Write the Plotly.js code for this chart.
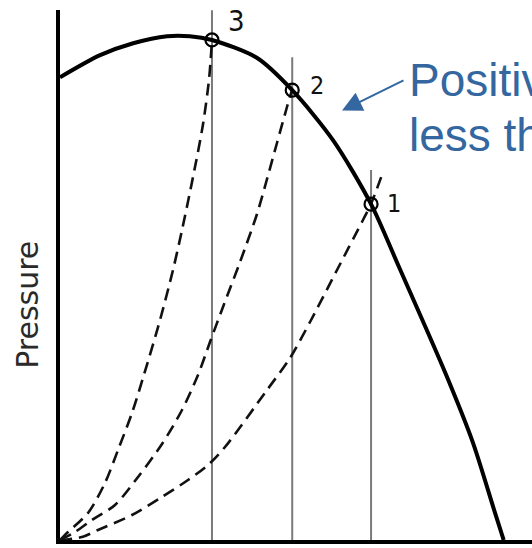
<!DOCTYPE html>
<html>
<head>
<meta charset="utf-8">
<script src="https://cdn.plot.ly/plotly-3.0.1.min.js"></script>
<style>html,body{margin:0;padding:0;background:#fff;}#chart{width:532px;height:548px;}</style>
</head>
<body>
<div id="chart"></div>
<script>
// Pump characteristic curve (flow vs pressure, arbitrary units 0-100)
var pumpFlow     = [0, 8.5, 15.5, 22.7, 27.5, 32.2, 41.7, 49.2, 57.8, 65.9, 71.8, 81.8, 87.5, 92.0, 94.0];
var pumpPressure = [85.7, 89.8, 92.0, 93.3, 93.3, 92.6, 89.3, 83.3, 74.1, 62.2, 50.6, 30.6, 18.0, 5.5, 0];

// System curves (dashed), through operating points 3, 2, 1
var sys3Flow     = [0, 1.69, 5.93, 9.53, 12.29, 15.25, 17.58, 21.19, 23.94, 25.85, 28.18, 30.30, 31.6, 32.20];
var sys3Pressure = [0, 1.48, 5.0, 10.56, 16.67, 23.52, 30.0, 40.74, 50.0, 57.41, 67.22, 77.0, 85.5, 92.59];
var sys2Flow     = [0, 3.18, 6.78, 11.65, 16.53, 21.61, 25.85, 29.24, 31.78, 34.53, 38.14, 41.74, 43.86, 45.97, 48.09, 49.15];
var sys2Pressure = [0, 1.48, 3.70, 6.48, 11.67, 17.78, 24.07, 30.56, 36.67, 43.15, 51.48, 60.37, 66.85, 73.52, 80.19, 83.33];
var sys1Flow     = [0, 4.66, 8.05, 15.25, 21.61, 27.12, 31.36, 34.96, 43.86, 48.73, 52.97, 58.69, 64.19, 65.89, 68.43];
var sys1Pressure = [0, 0.56, 1.85, 4.63, 7.96, 11.11, 13.89, 17.22, 27.78, 33.7, 40.37, 50.0, 59.26, 62.22, 68.15];

// Operating points and their labels
var opLabels   = ["3", "2", "1"];
var opFlow     = [32.2, 49.2, 65.9];
var opPressure = [92.6, 83.3, 62.2];
var guideTop   = [98.1, 89.4, 68.5];

var axisLabel = "Pressure";
var noteLine1 = "Positive";
var noteLine2 = "less than";

var blue = "rgb(52,103,160)";
var traces = [];

// vertical guide lines at operating flows
for (var i = 0; i < opFlow.length; i++) {
  traces.push({x: [opFlow[i], opFlow[i]], y: [0, guideTop[i]], mode: "lines",
    line: {color: "#7a7a7a", width: 2}, hoverinfo: "skip", showlegend: false});
}
[[sys3Flow, sys3Pressure], [sys2Flow, sys2Pressure], [sys1Flow, sys1Pressure]].forEach(function (s) {
  traces.push({x: s[0], y: s[1], mode: "lines",
    line: {color: "#111", width: 2.6, dash: "12px,7px", shape: "spline", smoothing: 0.8},
    hoverinfo: "skip", showlegend: false});
});
traces.push({x: pumpFlow, y: pumpPressure, mode: "lines",
  line: {color: "#000", width: 4, shape: "spline", smoothing: 0.8}, showlegend: false});
traces.push({x: opFlow, y: opPressure, mode: "markers",
  marker: {symbol: "circle-open", size: 13, color: "#000", line: {width: 2.2, color: "#000"}},
  showlegend: false});

var labelShift = [[25, 19, 29], [25, 5, 25], [23, 1, 25]];
var annotations = [];
for (var j = 0; j < opLabels.length; j++) {
  annotations.push({x: opFlow[j], y: opPressure[j], xref: "x", yref: "y", text: opLabels[j],
    showarrow: false, xshift: labelShift[j][0], yshift: labelShift[j][1],
    font: {family: "DejaVu Sans Condensed, DejaVu Sans", size: labelShift[j][2], color: "#111"}});
}
annotations.push({xref: "paper", yref: "paper", x: -0.068, y: 0.4436, xanchor: "center", yanchor: "middle",
  text: axisLabel, textangle: -90, showarrow: false,
  font: {family: "DejaVu Sans", size: 30, color: "#2a2a2a"}});
annotations.push({xref: "paper", yref: "paper", x: 0.735, y: 0.8684, xanchor: "left", yanchor: "middle",
  text: noteLine1, showarrow: false, font: {family: "Liberation Sans, Arial", size: 46, color: blue}});
annotations.push({xref: "paper", yref: "paper", x: 0.735, y: 0.765, xanchor: "left", yanchor: "middle",
  text: noteLine2, showarrow: false, font: {family: "Liberation Sans, Arial", size: 46, color: blue}});
annotations.push({xref: "paper", yref: "paper", x: 0.5975, y: 0.8102, text: "",
  showarrow: true, ax: 63, ay: -31, arrowcolor: blue, arrowwidth: 2, arrowhead: 2, arrowsize: 2});

var layout = {
  width: 532, height: 548,
  margin: {l: 60, r: 0, t: 10, b: 8},
  paper_bgcolor: "#fff", plot_bgcolor: "#fff",
  xaxis: {range: [0, 100], showline: true, linewidth: 4, linecolor: "#000", showgrid: false,
    zeroline: false, showticklabels: false, ticks: "", fixedrange: true},
  yaxis: {range: [0, 98.15], showline: true, linewidth: 4, linecolor: "#000", showgrid: false,
    zeroline: false, showticklabels: false, ticks: "", fixedrange: true},
  annotations: annotations,
  showlegend: false
};
Plotly.newPlot("chart", traces, layout, {staticPlot: true, displayModeBar: false});
</script>
</body>
</html>
